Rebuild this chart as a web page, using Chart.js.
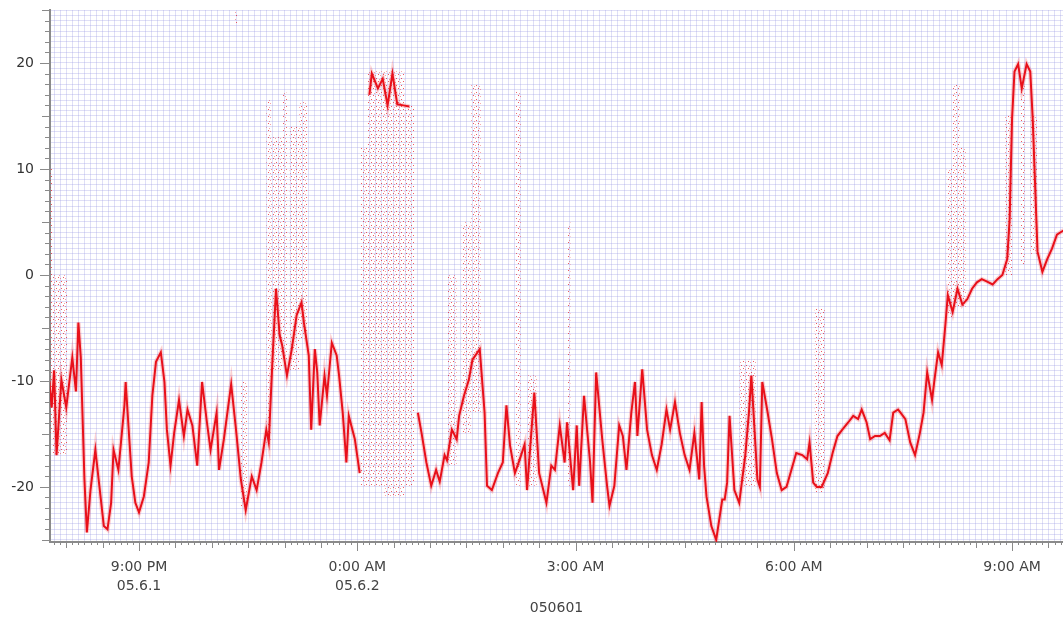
<!DOCTYPE html>
<html>
<head>
<meta charset="utf-8">
<script src="https://cdn.jsdelivr.net/npm/chart.js@4.4.1/dist/chart.umd.min.js"></script>
<style>
  html, body { margin: 0; padding: 0; background: #ffffff; }
  #wrap { width: 1063px; height: 619px; }
</style>
</head>
<body>
<div id="wrap"><canvas id="c" width="1063" height="619"></canvas></div>
<script>
// Main trace: [clock time, value]; times before noon belong to 05.6.2. null = break in the trace.
const trace = [
  ["19:46",-10],["19:48",-12.5],["19:50",-9],["19:52",-17],["19:56",-9.9],["20:00",-12.5],
  ["20:05",-7.8],["20:08",-11],["20:10",-4.5],["20:12",-7.8],["20:15",-19.3],["20:17",-24.3],
  ["20:20",-20.3],["20:24",-16.5],["20:27",-19.6],["20:31",-23.7],["20:34",-24],["20:37",-21.5],
  ["20:39",-16.5],["20:43",-18.4],["20:48",-12.3],["20:49",-10.1],["20:52",-15.5],["20:54",-19],
  ["20:57",-21.5],["21:00",-22.4],["21:04",-20.9],["21:08",-17.7],["21:11",-11.4],["21:14",-8.2],
  ["21:18",-7.3],["21:21",-10.1],["21:23",-14.6],["21:26",-18],["21:29",-14.9],["21:33",-11.8],
  ["21:37",-15.2],["21:40",-12.7],["21:44",-14.2],["21:48",-18],["21:52",-10.1],["21:56",-13.9],
  ["21:59",-16.5],["22:04",-13],["22:06",-18.4],["22:10",-15.5],["22:16",-10.3],["22:20",-14.6],
  ["22:24",-19.3],["22:28",-22.2],["22:33",-19],["22:37",-20.3],["22:41",-17.7],["22:45",-14.6],
  ["22:47",-15.8],["22:50",-8.2],["22:53",-1.3],["22:56",-5.7],["22:58",-6.6],["23:02",-9.5],
  ["23:06",-7],["23:10",-3.8],["23:14",-2.6],["23:16",-4.5],["23:20",-7.6],["23:22",-14.6],
  ["23:25",-7],["23:27",-9.2],["23:29",-14.2],["23:33",-9.5],["23:35",-11.4],["23:39",-6.4],
  ["23:43",-7.6],["23:45",-9.5],["23:48",-13],["23:51",-17.7],["23:53",-13.3],["23:58",-15.5],
  ["00:02",-18.7],["00:06",null],["00:10",17],["00:12",19],["00:17",17.6],["00:21",18.5],
  ["00:25",16],["00:29",19],["00:33",16.1],["00:38",16],["00:43",15.9],["00:46",null],
  ["00:50",-13],["00:53",-14.9],["00:57",-17.7],["01:01",-19.9],["01:05",-18.4],["01:08",-19.5],
  ["01:12",-17],["01:14",-17.5],["01:18",-14.6],["01:22",-15.5],["01:24",-13.3],["01:28",-11.4],
  ["01:32",-9.9],["01:35",-8],["01:41",-7],["01:45",-13],["01:47",-19.9],["01:51",-20.3],
  ["01:56",-18.7],["02:00",-17.7],["02:03",-12.3],["02:06",-16.1],["02:10",-18.7],["02:14",-17.4],
  ["02:18",-16],["02:20",-20.3],["02:26",-11.1],["02:30",-18.7],["02:36",-21.5],["02:40",-18],
  ["02:43",-18.4],["02:47",-14.2],["02:51",-17.7],["02:53",-13.9],["02:58",-20.3],["03:01",-14.2],
  ["03:03",-19.9],["03:07",-11.4],["03:12",-17.7],["03:14",-21.5],["03:17",-9.2],["03:22",-15.5],
  ["03:26",-19.9],["03:28",-21.8],["03:32",-19.9],["03:36",-14.2],["03:39",-15.2],["03:42",-18.4],
  ["03:46",-13],["03:49",-10.1],["03:51",-15.2],["03:55",-8.9],["03:59",-14.6],["04:03",-17],
  ["04:07",-18.4],["04:11",-16],["04:15",-12.7],["04:18",-14.6],["04:22",-12],["04:26",-14.9],
  ["04:30",-17],["04:34",-18.4],["04:38",-14.9],["04:42",-19.3],["04:44",-12],["04:46",-18],
  ["04:48",-20.9],["04:52",-23.7],["04:56",-25],["05:01",-21.2],["05:03",-21.2],["05:05",-19.6],
  ["05:07",-13.3],["05:11",-20.3],["05:15",-21.5],["05:20",-17],["05:23",-13],["05:25",-9.5],
  ["05:30",-19.3],["05:32",-20],["05:34",-10.1],["05:38",-12.7],["05:42",-15.5],["05:46",-18.7],
  ["05:50",-20.3],["05:54",-20],["05:58",-18.4],["06:02",-16.8],["06:07",-17],["06:11",-17.4],
  ["06:13",-15.8],["06:16",-19.6],["06:19",-20],["06:23",-20],["06:28",-18.7],["06:32",-16.8],
  ["06:36",-15.2],["06:40",-14.6],["06:45",-13.9],["06:49",-13.3],["06:53",-13.6],["06:56",-12.7],
  ["07:00",-13.9],["07:03",-15.5],["07:07",-15.2],["07:11",-15.2],["07:15",-14.9],["07:19",-15.6],
  ["07:22",-13],["07:26",-12.7],["07:28",-13],["07:32",-13.6],["07:36",-15.8],["07:40",-17],
  ["07:44",-14.9],["07:47",-13],["07:50",-9.2],["07:54",-11.8],["07:56",-9.9],["07:59",-7.3],
  ["08:02",-8.5],["08:05",-4.7],["08:07",-1.9],["08:11",-3.5],["08:15",-1.3],["08:19",-2.8],
  ["08:23",-2.3],["08:27",-1.3],["08:31",-0.7],["08:35",-0.4],["08:39",-0.6],["08:44",-0.9],
  ["08:48",-0.4],["08:52",0],["08:56",1.5],["08:58",5.3],["09:00",14.8],["09:02",19.2],
  ["09:05",19.9],["09:08",17.6],["09:12",19.9],["09:15",19.2],["09:17",14.8],["09:21",2.2],
  ["09:25",0.3],["09:29",1.5],["09:33",2.5],["09:37",3.8],["09:41",4.1],["09:44",4.3]
];

// Sparse scatter bursts: [start, end, low, high]
const bursts = [
  ["19:46","19:49",-15,10], ["19:49","20:01",-17,0], ["22:19","22:21",23.6,25],
  ["22:24","22:29",-22,-10], ["22:45","22:49",-16,16.5], ["22:49","22:58",-9,13],
  ["22:58","23:02",-8,17.2], ["23:04","23:12",-9,14], ["23:12","23:19",-6,16.3],
  ["00:03","00:08",-20,12], ["00:08","00:22",-20,19.2], ["00:22","00:39",-21,19.2],
  ["00:39","00:47",-20,16], ["01:14","01:22",-18,0], ["01:26","01:34",-15,5],
  ["01:34","01:42",-13,18], ["02:11","02:15",-20,17.3], ["02:20","02:28",-20,-9.5],
  ["02:53","02:56",-20,5], ["05:15","05:29",-20,-8], ["06:17","06:26",-20.5,-3.2],
  ["08:06","08:11",-4,10], ["08:11","08:17",-3,18], ["08:17","08:22",-3,12],
  ["08:54","09:00",0,15], ["09:07","09:11",1,18], ["09:15","09:21",2,15]
];

// Labelled time ticks and their captions
const xTickTimes = ["21:00", "00:00", "03:00", "06:00", "09:00"];
const xTickLabels = [["9:00 PM", "05.6.1"], ["0:00 AM", "05.6.2"], "3:00 AM", "6:00 AM", "9:00 AM"];
const yTickLabels = [-20, -10, 0, 10, 20];
const axisTitle = "050601";

// minutes relative to 21:00 on 05.6.1
function toMin(s) {
  const [h, m] = s.split(":").map(Number);
  const hh = h < 12 ? h + 24 : h;
  return (hh - 21) * 60 + m;
}

const canvas = document.getElementById("c");
const ctx0 = canvas.getContext("2d");

// sparse dot texture used to fill the scatter bursts
function dotPattern() {
  const t = document.createElement("canvas");
  t.width = 5; t.height = 7;
  const g = t.getContext("2d");
  g.fillStyle = "rgba(232,20,30,0.7)";
  g.fillRect(1, 1, 1, 1);
  g.fillRect(3, 4, 1, 1);
  g.fillStyle = "rgba(232,20,30,0.4)";
  g.fillRect(0, 5, 1, 1);
  g.fillRect(4, 2, 1, 1);
  return ctx0.createPattern(t, "repeat");
}
const dots = dotPattern();

const tickLabelMap = new Map(xTickTimes.map((t, i) => [toMin(t), xTickLabels[i]]));
const tracePoints = trace.map(([t, v]) => ({ x: toMin(t), y: v }));

const datasets = [{
  label: "trace",
  data: tracePoints,
  borderColor: "rgb(232,16,26)",
  borderWidth: 2,
  pointRadius: 0,
  tension: 0,
  spanGaps: false,
  fill: false
}, {
  label: "trace halo",
  data: tracePoints,
  borderColor: "rgba(240,40,50,0.22)",
  borderWidth: 4.5,
  pointRadius: 0,
  tension: 0,
  spanGaps: false,
  fill: false
}];
bursts.forEach(([t0, t1, lo, hi]) => {
  datasets.push({
    label: "burst",
    data: [{ x: toMin(t0), y: hi }, { x: toMin(t1), y: hi }],
    borderWidth: 0,
    borderColor: "rgba(0,0,0,0)",
    pointRadius: 0,
    backgroundColor: dots,
    fill: { value: lo }
  });
});

const tickMarks = {
  id: "tickMarks",
  afterDraw(chart) {
    const { ctx, chartArea: a, scales: { x, y } } = chart;
    ctx.save();
    ctx.strokeStyle = "#8a8a8a";
    ctx.lineWidth = 1;
    ctx.beginPath();
    for (let k = -25; k <= 25; k++) {
      const py = Math.round(y.getPixelForValue(k)) + 0.5;
      const len = k % 10 === 0 ? 10 : (k % 5 === 0 ? 8 : 5);
      ctx.moveTo(a.left - len, py); ctx.lineTo(a.left, py);
    }
    for (let m = -70; m <= 760; m += 5) {
      const px = Math.round(x.getPixelForValue(m)) + 0.5;
      const len = m % 180 === 0 ? 9 : (m % 30 === 0 ? 6 : 3);
      ctx.moveTo(px, a.bottom); ctx.lineTo(px, a.bottom + len);
    }
    ctx.stroke();
    ctx.restore();
  }
};

const tickFont = { family: "'DejaVu Sans', sans-serif", size: 14 };
const gridColor = "rgba(150,150,225,0.3)";

new Chart(canvas, {
  type: "line",
  data: { datasets },
  plugins: [tickMarks],
  options: {
    responsive: false,
    animation: false,
    events: [],
    layout: { padding: { top: 10, right: 0, bottom: 0, left: 0 } },
    plugins: { legend: { display: false }, tooltip: { enabled: false } },
    scales: {
      x: {
        type: "linear",
        min: -73.4,
        max: 762,
        afterBuildTicks(s) {
          s.ticks = [];
          for (let m = -70; m <= 760; m += 5) s.ticks.push({ value: m });
        },
        afterFit(s) { s.height = 77; s.paddingLeft = 0; s.paddingRight = 0; },
        ticks: {
          autoSkip: false,
          maxRotation: 0,
          padding: 16,
          color: "#444",
          font: { ...tickFont, lineHeight: 1.36 },
          callback: (v) => tickLabelMap.has(v) ? tickLabelMap.get(v) : ""
        },
        grid: { color: gridColor, lineWidth: 1, drawTicks: false },
        border: { color: "#8a8a8a", width: 2 },
        title: {
          display: true,
          text: axisTitle,
          color: "#444",
          font: { ...tickFont, lineHeight: 1.2 },
          padding: { top: 0, bottom: 2.6 }
        }
      },
      y: {
        type: "linear",
        min: -25.2,
        max: 25,
        afterBuildTicks(s) {
          s.ticks = [];
          for (let k = -50; k <= 50; k++) s.ticks.push({ value: k / 2 });
        },
        afterFit(s) { s.width = 50; s.paddingTop = 0; s.paddingBottom = 0; },
        ticks: {
          autoSkip: false,
          padding: 16,
          color: "#333",
          font: tickFont,
          callback: (v) => yTickLabels.includes(v) ? String(v) : ""
        },
        grid: { color: gridColor, lineWidth: 1, drawTicks: false },
        border: { color: "#8a8a8a", width: 2 }
      }
    }
  }
});
</script>
</body>
</html>
